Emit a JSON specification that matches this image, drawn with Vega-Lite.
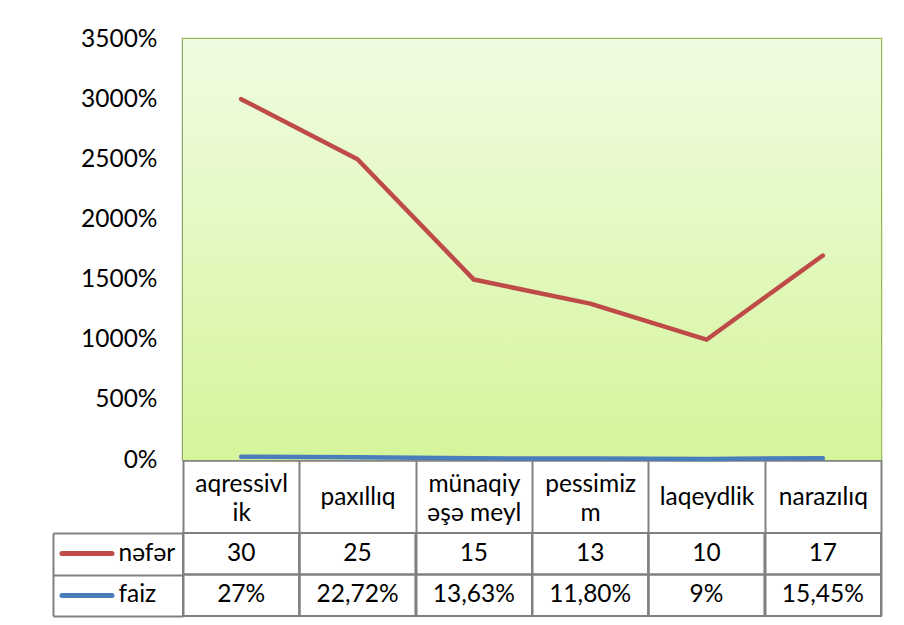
{
  "$schema": "https://vega.github.io/schema/vega-lite/v6.json",
  "width": 698,
  "height": 421,
  "autosize": {"type": "none"},
  "padding": {"left": 183, "top": 39, "right": 23, "bottom": 165},
  "background": "#ffffff",
  "config": {
    "font": "Lato",
    "view": {"stroke": "#9BBB59", "strokeWidth": 2.5},
    "axis": {"labelFont": "Lato", "labelColor": "#000000"}
  },
  "data": {
    "values": [
      {"kateqoriya": "aqressivlik", "nefer": 30, "faiz": 0.27, "faiz_metn": "27%"},
      {"kateqoriya": "paxıllıq", "nefer": 25, "faiz": 0.2272, "faiz_metn": "22,72%"},
      {"kateqoriya": "münaqiyəşə meyl", "nefer": 15, "faiz": 0.1363, "faiz_metn": "13,63%"},
      {"kateqoriya": "pessimizm", "nefer": 13, "faiz": 0.118, "faiz_metn": "11,80%"},
      {"kateqoriya": "laqeydlik", "nefer": 10, "faiz": 0.09, "faiz_metn": "9%"},
      {"kateqoriya": "narazılıq", "nefer": 17, "faiz": 0.1545, "faiz_metn": "15,45%"}
    ]
  },
  "layer": [
    {
      "layer": [
        {
          "data": {"values": [{}]},
          "mark": {
            "type": "rect",
            "color": {
              "gradient": "linear",
              "x1": 0, "y1": 0, "x2": 0, "y2": 1,
              "stops": [
                {"offset": 0, "color": "#F0FCE2"},
                {"offset": 1, "color": "#D5F59B"}
              ]
            }
          },
          "encoding": {
            "y": {"datum": 35, "type": "quantitative", "axis": {"title": null}},
            "y2": {"datum": 0}
          }
        },
        {
          "mark": {"type": "line", "color": "#BE4B48", "strokeWidth": 4.5, "strokeCap": "round", "strokeJoin": "round"},
          "encoding": {
            "x": {
              "field": "kateqoriya", "type": "nominal", "sort": null,
              "scale": {"type": "band", "paddingInner": 0, "paddingOuter": 0},
              "axis": {
                "orient": "bottom", "title": null,
                "domain": true, "domainColor": "#868686", "domainWidth": 2,
                "ticks": true, "tickBand": "extent", "tickSize": 155, "tickColor": "#808080", "tickWidth": 2,
                "labelAngle": 0, "labelFontSize": 24.5, "labelBaseline": "middle",
                "labelPadding": {"condition": {"test": "indexof(['aqressivlik', 'münaqiyəşə meyl', 'pessimizm'], datum.value) >= 0", "value": -131}, "value": -118},
                "labelLineHeight": 29, "labelOverlap": false, "labelAlign": "center",
                "labelExpr": "datum.label === 'aqressivlik' ? ['aqressivl', 'ik'] : datum.label === 'münaqiyəşə meyl' ? ['münaqiy', 'əşə meyl'] : datum.label === 'pessimizm' ? ['pessimiz', 'm'] : datum.label"
              }
            },
            "y": {
              "field": "nefer", "type": "quantitative",
              "scale": {"domain": [0, 35], "nice": false},
              "axis": {
                "orient": "left", "title": null,
                "values": [0, 5, 10, 15, 20, 25, 30, 35], "format": ".0%",
                "labelFontSize": 24.5, "labelPadding": 26, "ticks": false,
                "domain": true, "domainColor": "#868686", "domainWidth": 2,
                "grid": true, "gridColor": "#868686", "gridWidth": 2,
                "gridOpacity": {"condition": {"test": "datum.value === 35", "value": 0}, "value": 1}
              }
            }
          }
        },
        {
          "mark": {"type": "line", "color": "#4A7EBB", "strokeWidth": 4.5, "strokeCap": "round", "strokeJoin": "round"},
          "encoding": {
            "x": {"field": "kateqoriya", "type": "nominal", "sort": null, "scale": {"type": "band", "paddingInner": 0, "paddingOuter": 0}},
            "y": {"field": "faiz", "type": "quantitative", "axis": {"title": null}}
          }
        }
      ]
    },
    {
      "layer": [
        {
          "mark": {"type": "rect", "filled": false, "color": "#808080", "strokeWidth": 2},
          "encoding": {
            "x": {"field": "kateqoriya", "type": "nominal", "sort": null, "scale": {"type": "band", "paddingInner": 0, "paddingOuter": 0}},
            "y": {
              "datum": "nəfər", "type": "nominal",
              "scale": {"type": "band", "domain": ["nəfər", "faiz"], "range": [494, 577], "paddingInner": 0, "paddingOuter": 0},
              "axis": {
                "orient": "left", "offset": 130, "title": null,
                "domain": true, "domainColor": "#808080", "domainWidth": 2,
                "ticks": true, "tickBand": "extent", "tickSize": -130, "tickColor": "#808080", "tickWidth": 2,
                "labels": false, "grid": false
              }
            }
          }
        },
        {
          "mark": {"type": "rect", "filled": false, "color": "#808080", "strokeWidth": 2},
          "encoding": {
            "x": {"field": "kateqoriya", "type": "nominal", "sort": null},
            "y": {"datum": "faiz", "type": "nominal", "axis": null}
          }
        },
        {
          "mark": {"type": "text", "fontSize": 24.5, "color": "#000000", "baseline": "middle", "align": "center"},
          "encoding": {
            "x": {"field": "kateqoriya", "type": "nominal", "sort": null},
            "y": {
              "datum": "nəfər", "type": "nominal",
              "axis": {
                "orient": "left", "offset": 71.5, "title": null,
                "domain": false, "grid": false,
                "ticks": true, "tickBand": "center", "tickSize": 50, "tickWidth": 5, "tickCap": "round",
                "tickColor": {"condition": {"test": "datum.value === 'nəfər'", "value": "#BE4B48"}, "value": "#4A7EBB"},
                "labels": true, "labelAlign": "left", "labelPadding": -56.5, "labelFontSize": 24.5, "labelBaseline": "middle"
              }
            },
            "text": {"field": "nefer", "type": "quantitative"}
          }
        },
        {
          "mark": {"type": "text", "fontSize": 24.5, "color": "#000000", "baseline": "middle", "align": "center"},
          "encoding": {
            "x": {"field": "kateqoriya", "type": "nominal", "sort": null},
            "y": {"datum": "faiz", "type": "nominal", "axis": null},
            "text": {"field": "faiz_metn", "type": "nominal"}
          }
        }
      ],
      "resolve": {"axis": {"y": "independent"}}
    }
  ],
  "resolve": {"scale": {"y": "independent"}}
}
